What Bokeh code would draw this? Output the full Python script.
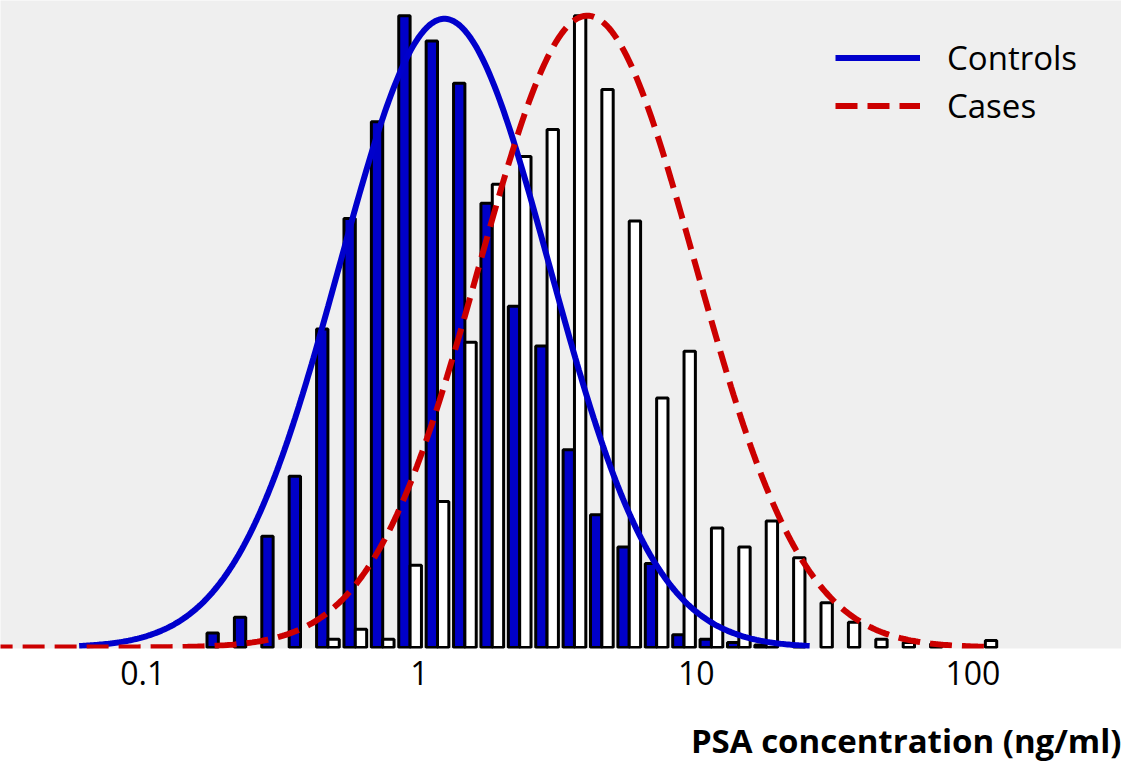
import numpy as np
from bokeh.plotting import figure
from bokeh.models import Range1d, FixedTicker, Legend, LegendItem, Title
from bokeh.embed import file_html
from bokeh.resources import INLINE

# ---- data ----
# left edge of each histogram bin, in log10(PSA ng/ml)
bin_left_log = [-0.773, -0.674, -0.575, -0.476, -0.377, -0.278, -0.179, -0.080,
                0.019, 0.118, 0.217, 0.316, 0.415, 0.514, 0.613, 0.712, 0.811,
                0.910, 1.009, 1.108, 1.207, 1.306, 1.405, 1.504, 1.603, 1.702,
                1.801, 1.900, 1.999]
# relative frequencies (tallest bar = 100)
controls = [2.3, 4.8, 17.6, 27.1, 50.4, 67.9, 83.2, 100.0, 96.0, 89.3, 70.3,
            54.0, 47.7, 31.3, 21.0, 15.9, 13.3, 2.0, 1.3, 0.8, 0.4, 0, 0, 0,
            0, 0, 0, 0, 0]
cases = [0, 0, 0, 0, 1.3, 2.9, 1.3, 13.0, 23.1, 48.3, 73.3, 77.7, 82.0, 100.0,
         88.3, 67.5, 39.5, 46.9, 18.9, 15.9, 20.0, 14.2, 7.1, 4.0, 1.3, 0.8,
         0.6, 0, 1.1]

# fitted log-normal curves (log10 mean, log10 sd, peak height, drawn span)
ctrl_mu, ctrl_sd, ctrl_peak = 0.090, 0.38, 99.5
ctrl_span = (-1.23, 1.41)
case_mu, case_sd, case_peak = 0.607, 0.39, 100.0
case_span = (-1.55, 2.045)

tick_values = [0.1, 1, 10, 100]
tick_labels = ["0.1", "1", "10", "100"]
series_names = ["Controls", "Cases"]
x_label = "PSA concentration (ng/ml)"

# ---- style ----
BLUE = "#0000c8"
LINE_BLUE = "#0000cc"
RED = "#cc0000"
BG = "#efefef"
FONT = "Open Sans"
b_off, b_w = 0.005, 0.041   # bar offsets within a bin (log10 units)

p = figure(frame_width=1121, frame_height=648, x_axis_type="log",
           x_range=Range1d(10 ** -1.5143, 10 ** 2.537),
           y_range=Range1d(-0.16, 102.4),
           y_axis_location=None, output_backend="svg", toolbar_location=None,
           min_border_left=0, min_border_right=0, min_border_top=0,
           min_border_bottom=0)
p.background_fill_color = BG
p.border_fill_color = "white"
p.outline_line_color = None
p.grid.visible = False

L = np.array(bin_left_log)
c = np.array(controls, dtype=float)
k = np.array(cases, dtype=float)
mc = c > 0
mk = k > 0
p.quad(left=10 ** (L[mc] + b_off), right=10 ** (L[mc] + b_off + b_w),
       bottom=0, top=c[mc], fill_color=BLUE, line_color="black", line_width=3)
p.quad(left=10 ** (L[mk] + b_off + b_w), right=10 ** (L[mk] + b_off + 2 * b_w),
       bottom=0, top=k[mk], fill_color="white", line_color="black", line_width=3)

xc = np.linspace(ctrl_span[0], ctrl_span[1], 400)
yc = ctrl_peak * np.exp(-0.5 * ((xc - ctrl_mu) / ctrl_sd) ** 2)
r1 = p.line(10 ** xc, yc, line_color=LINE_BLUE, line_width=6)
xk = np.linspace(case_span[0], case_span[1], 400)
yk = case_peak * np.exp(-0.5 * ((xk - case_mu) / case_sd) ** 2)
r2 = p.line(10 ** xk, yk, line_color=RED, line_width=6, line_dash="22 10")

ax = p.xaxis[0]
ax.ticker = FixedTicker(ticks=tick_values, minor_ticks=[])
ax.major_label_overrides = {v: s for v, s in zip(tick_values, tick_labels)}
ax.axis_line_color = None
ax.major_tick_line_color = None
ax.minor_tick_line_color = None
ax.major_tick_out = 0
ax.major_tick_in = 0
ax.major_label_standoff = 12
ax.major_label_text_font = FONT
ax.major_label_text_font_size = "32px"
ax.major_label_text_color = "black"

legend = Legend(items=[LegendItem(label=series_names[0], renderers=[r1]),
                       LegendItem(label=series_names[1], renderers=[r2])],
                location=(835, 520), glyph_width=85, glyph_height=45,
                label_height=45, spacing=3, label_standoff=27, padding=0,
                margin=0, border_line_alpha=0, background_fill_alpha=0,
                label_text_font=FONT, label_text_font_size="33px",
                label_text_color="black")
p.add_layout(legend)

t = Title(text=x_label, align="right", text_font=FONT, text_font_size="33px",
          text_font_style="bold", text_color="black", standoff=56)
p.add_layout(t, "below")

open("out.html", "w").write(file_html(p, INLINE))
